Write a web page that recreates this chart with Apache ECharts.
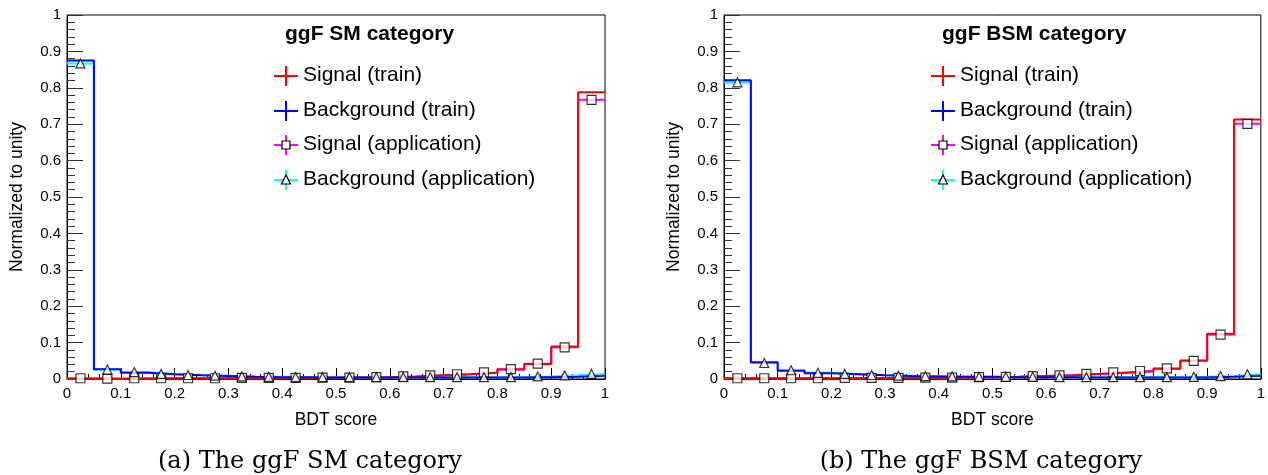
<!DOCTYPE html>
<html>
<head>
<meta charset="utf-8">
<script src="https://cdn.jsdelivr.net/npm/echarts@6/dist/echarts.min.js"></script>
<style>
  html, body { margin: 0; padding: 0; background: #fff; }
  #chart { width: 1268px; height: 475px; }
</style>
</head>
<body>
<div id="chart"></div>
<script>
// BDT score binning: 20 bins of width 0.05
const binEdges = [0, 0.05, 0.1, 0.15, 0.2, 0.25, 0.3, 0.35, 0.4, 0.45, 0.5,
                  0.55, 0.6, 0.65, 0.7, 0.75, 0.8, 0.85, 0.9, 0.95, 1.0];

// ggF SM category (normalized to unity)
const smSignalTrain = [0.001, 0.001, 0.001, 0.002, 0.002, 0.002, 0.002, 0.003, 0.003, 0.003,
                       0.004, 0.005, 0.007, 0.010, 0.013, 0.017, 0.026, 0.041, 0.089, 0.788];
const smBackgroundTrain = [0.875, 0.027, 0.017, 0.013, 0.010, 0.008, 0.006, 0.005, 0.005, 0.004,
                           0.004, 0.004, 0.004, 0.004, 0.004, 0.004, 0.004, 0.005, 0.006, 0.009];
const smSignalApp = [0.002, 0.001, 0.002, 0.002, 0.002, 0.002, 0.003, 0.003, 0.003, 0.004,
                     0.004, 0.005, 0.007, 0.010, 0.013, 0.018, 0.027, 0.042, 0.087, 0.767];
const smBackgroundApp = [0.867, 0.026, 0.019, 0.014, 0.011, 0.009, 0.007, 0.006, 0.005, 0.005,
                         0.005, 0.005, 0.005, 0.005, 0.005, 0.005, 0.005, 0.007, 0.010, 0.014];

// ggF BSM category (normalized to unity)
const bsmSignalTrain = [0.002, 0.002, 0.002, 0.002, 0.002, 0.003, 0.003, 0.003, 0.004, 0.005,
                        0.006, 0.008, 0.010, 0.014, 0.017, 0.021, 0.028, 0.051, 0.124, 0.713];
const bsmBackgroundTrain = [0.821, 0.046, 0.023, 0.016, 0.013, 0.010, 0.008, 0.007, 0.006, 0.006,
                            0.005, 0.005, 0.005, 0.004, 0.004, 0.004, 0.004, 0.004, 0.006, 0.009];
const bsmSignalApp = [0.002, 0.002, 0.002, 0.002, 0.003, 0.003, 0.003, 0.004, 0.004, 0.005,
                      0.006, 0.008, 0.010, 0.014, 0.018, 0.022, 0.029, 0.050, 0.122, 0.701];
const bsmBackgroundApp = [0.815, 0.044, 0.024, 0.017, 0.014, 0.011, 0.009, 0.008, 0.007, 0.006,
                          0.006, 0.006, 0.005, 0.005, 0.005, 0.005, 0.005, 0.006, 0.008, 0.013];

const panelTitles = ['ggF SM category', 'ggF BSM category'];
const captions = ['(a) The ggF SM category', '(b) The ggF BSM category'];
const legendLabels = ['Signal (train)', 'Background (train)', 'Signal (application)', 'Background (application)'];
const xAxisTitle = 'BDT score';
const yAxisTitle = 'Normalized to unity';

const COLORS = { sigTrain: '#ff0000', bkgTrain: '#0000ff', sigApp: '#ff00ff', bkgApp: '#00ffff' };
const SANS = 'Liberation Sans, Arial, Helvetica, sans-serif';
const SERIF = 'DejaVu Serif, serif';

// Panel frames (pixel layout) and caption centres
const panels = [
  { left: 67, top: 15, width: 538, height: 364, captionX: 310 },
  { left: 724, top: 15, width: 538, height: 364, captionX: 981 }
];

// Histogram outline as a stepped line through the bin lower edges
function stepData(vals) {
  const d = vals.map((v, i) => [binEdges[i], v]);
  d.push([binEdges[binEdges.length - 1], vals[vals.length - 1]]);
  return d;
}
function centerData(vals) {
  return vals.map((v, i) => [(binEdges[i] + binEdges[i + 1]) / 2, v]);
}

const grids = panels.map(p => ({
  left: p.left, top: p.top, width: p.width, height: p.height,
  show: true, borderColor: '#000', borderWidth: 1, backgroundColor: 'transparent'
}));

const xAxes = panels.map((p, i) => ({
  type: 'value', gridIndex: i, min: 0, max: 1, interval: 0.1,
  name: xAxisTitle, nameLocation: 'middle', nameGap: 32,
  nameTextStyle: { fontFamily: SANS, fontSize: 17.5, color: '#000' },
  axisLine: { show: true, lineStyle: { color: '#000', width: 1 } },
  axisTick: { show: true, inside: true, length: 11, lineStyle: { color: '#000', width: 1 } },
  minorTick: { show: true, splitNumber: 5, length: 5, lineStyle: { color: '#000', width: 1 } },
  splitLine: { show: false },
  axisLabel: { fontFamily: SANS, fontSize: 15, color: '#000', margin: 7 }
}));

const yAxes = panels.map((p, i) => ({
  type: 'value', gridIndex: i, min: 0, max: 1, interval: 0.1,
  name: yAxisTitle, nameLocation: 'middle', nameGap: 41,
  nameTextStyle: { fontFamily: SANS, fontSize: 17.5, color: '#000' },
  axisLine: { show: true, lineStyle: { color: '#000', width: 1 } },
  axisTick: { show: true, inside: true, length: 16, lineStyle: { color: '#333', width: 1 } },
  minorTick: { show: true, splitNumber: 5, length: 8, lineStyle: { color: '#333', width: 1 } },
  splitLine: { show: false },
  axisLabel: { fontFamily: SANS, fontSize: 15, color: '#000', margin: 6 }
}));

function histSeries(vals, color, idx, z) {
  return {
    type: 'line', xAxisIndex: idx, yAxisIndex: idx, data: stepData(vals), step: 'end',
    showSymbol: false, symbol: 'none', z: z,
    lineStyle: { color: color, width: 2 }, animation: false, silent: true
  };
}
function markerSeries(vals, symbol, size, idx) {
  return {
    type: 'scatter', xAxisIndex: idx, yAxisIndex: idx, data: centerData(vals),
    symbol: symbol, symbolSize: size, z: 10,
    itemStyle: { color: '#fff', borderColor: '#000', borderWidth: 1.2 },
    animation: false, silent: true
  };
}

const panelData = [
  { sigTrain: smSignalTrain, bkgTrain: smBackgroundTrain, sigApp: smSignalApp, bkgApp: smBackgroundApp },
  { sigTrain: bsmSignalTrain, bkgTrain: bsmBackgroundTrain, sigApp: bsmSignalApp, bkgApp: bsmBackgroundApp }
];

const series = [];
panelData.forEach((d, i) => {
  series.push(histSeries(d.sigApp, COLORS.sigApp, i, 2));
  series.push(histSeries(d.bkgApp, COLORS.bkgApp, i, 3));
  series.push(histSeries(d.sigTrain, COLORS.sigTrain, i, 4));
  series.push(histSeries(d.bkgTrain, COLORS.bkgTrain, i, 5));
  series.push(markerSeries(d.sigApp, 'rect', 9, i));
  series.push(markerSeries(d.bkgApp, 'triangle', 9, i));
});

// Legend boxes, panel titles and captions
const graphics = [];
const legendColors = [COLORS.sigTrain, COLORS.bkgTrain, COLORS.sigApp, COLORS.bkgApp];
const legendMarkers = [null, null, 'rect', 'triangle'];
const legendRows = [76, 111, 145, 180];
panels.forEach((p, i) => {
  const cx = p.left + 219;
  graphics.push({
    type: 'text', left: p.left + 218, top: 24,
    style: { text: panelTitles[i], font: 'bold 21px ' + SANS, fill: '#000' }
  });
  legendLabels.forEach((lab, k) => {
    const cy = legendRows[k];
    graphics.push({ type: 'line', shape: { x1: cx - 12, y1: cy, x2: cx + 12, y2: cy },
      style: { stroke: legendColors[k], lineWidth: 2 } });
    graphics.push({ type: 'line', shape: { x1: cx, y1: cy - 10, x2: cx, y2: cy + 10 },
      style: { stroke: legendColors[k], lineWidth: 2 } });
    if (legendMarkers[k] === 'rect') {
      graphics.push({ type: 'rect', shape: { x: cx - 4, y: cy - 4, width: 8, height: 8 },
        style: { fill: '#fff', stroke: '#000', lineWidth: 1.2 } });
    } else if (legendMarkers[k] === 'triangle') {
      graphics.push({ type: 'polygon', shape: { points: [[cx, cy - 5], [cx + 4.5, cy + 4], [cx - 4.5, cy + 4]] },
        style: { fill: '#fff', stroke: '#000', lineWidth: 1.2 } });
    }
    graphics.push({ type: 'text', left: cx + 17, top: cy - 11,
      style: { text: lab, font: '21px ' + SANS, fill: '#000' } });
  });
  graphics.push({
    type: 'text', x: p.captionX, y: 462,
    style: { text: captions[i], font: '24px ' + SERIF, fill: '#000', textAlign: 'center', textVerticalAlign: 'middle' }
  });
});

const chart = echarts.init(document.getElementById('chart'), null, { renderer: 'canvas' });
chart.setOption({
  backgroundColor: '#fff',
  animation: false,
  grid: grids,
  xAxis: xAxes,
  yAxis: yAxes,
  series: series,
  graphic: graphics
});
</script>
</body>
</html>
